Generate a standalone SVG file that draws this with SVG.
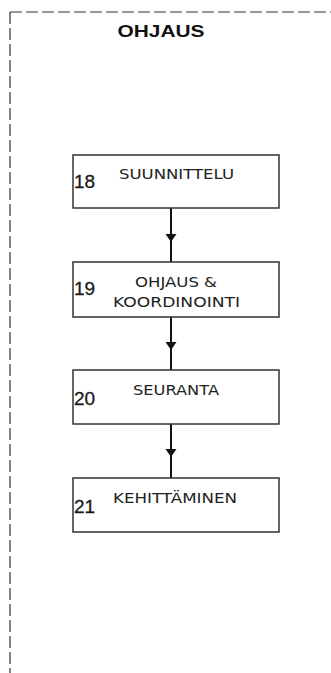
<svg xmlns="http://www.w3.org/2000/svg" width="331" height="673" viewBox="0 0 331 673">
<style>
.box{fill:#fff;stroke:#333;stroke-width:1.5}
.lbl{font-family:"DejaVu Sans","Liberation Sans",sans-serif;font-size:14.5px;fill:#222;text-anchor:middle}
.num{font-family:"Liberation Sans",Arial,sans-serif;font-size:19px;fill:#1a1a1a;stroke:#1a1a1a;stroke-width:0.3}
.conn{stroke:#111;stroke-width:2;fill:none}
.title{font-family:"Liberation Sans",Arial,sans-serif;font-size:17px;font-weight:bold;fill:#111;text-anchor:middle}
</style>
<rect width="331" height="673" fill="#fff"/>
<g id="border">
<path d="M10,12 H331 M10,12 V673" fill="none" stroke="#333" stroke-width="1.2" stroke-dasharray="12 4"/>
</g>
<text class="title" x="161" y="37" textLength="87" lengthAdjust="spacingAndGlyphs">OHJAUS</text>
<g id="connectors">
<line class="conn" x1="171" y1="208" x2="171" y2="262"/>
<polygon points="165.5,234 176.5,234 171,242" fill="#111"/>
<line class="conn" x1="171" y1="317" x2="171" y2="370"/>
<polygon points="165.5,342 176.5,342 171,350" fill="#111"/>
<line class="conn" x1="171" y1="424" x2="171" y2="478"/>
<polygon points="165.5,449 176.5,449 171,457" fill="#111"/>
</g>
<g id="n18">
<rect class="box" x="73" y="155" width="206" height="53"/>
<text class="num" x="74" y="188">18</text>
<text class="lbl" x="176.5" y="179" textLength="115" lengthAdjust="spacingAndGlyphs">SUUNNITTELU</text>
</g>
<g id="n19">
<rect class="box" x="73" y="262" width="206" height="55"/>
<text class="num" x="74" y="295">19</text>
<text class="lbl" x="176" y="287" textLength="82" lengthAdjust="spacingAndGlyphs">OHJAUS &amp;</text>
<text class="lbl" x="176.5" y="307" textLength="127" lengthAdjust="spacingAndGlyphs">KOORDINOINTI</text>
</g>
<g id="n20">
<rect class="box" x="73" y="370" width="206" height="54"/>
<text class="num" x="74" y="405">20</text>
<text class="lbl" x="176" y="395" textLength="86" lengthAdjust="spacingAndGlyphs">SEURANTA</text>
</g>
<g id="n21">
<rect class="box" x="73" y="478" width="206" height="54"/>
<text class="num" x="74" y="513">21</text>
<text class="lbl" x="175" y="503" textLength="124" lengthAdjust="spacingAndGlyphs">KEHITTÄMINEN</text>
</g>
</svg>
